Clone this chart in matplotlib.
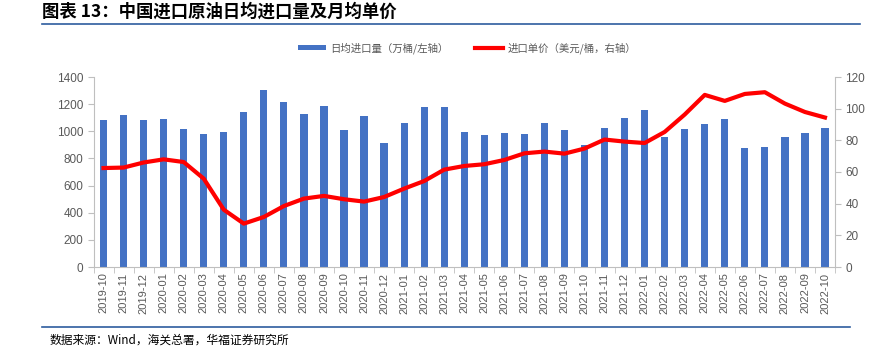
import matplotlib
matplotlib.use("Agg")
import matplotlib.pyplot as plt
from matplotlib.lines import Line2D
from matplotlib.patches import Patch
import numpy as np

plt.rcParams['font.family'] = ['Noto Sans CJK SC', 'DejaVu Sans']

months = ["2019-10", "2019-11", "2019-12", "2020-01", "2020-02", "2020-03", "2020-04", "2020-05",
          "2020-06", "2020-07", "2020-08", "2020-09", "2020-10", "2020-11", "2020-12", "2021-01",
          "2021-02", "2021-03", "2021-04", "2021-05", "2021-06", "2021-07", "2021-08", "2021-09",
          "2021-10", "2021-11", "2021-12", "2022-01", "2022-02", "2022-03", "2022-04", "2022-05",
          "2022-06", "2022-07", "2022-08", "2022-09", "2022-10"]
volume = [1081, 1123, 1080, 1093, 1015, 978, 995, 1140, 1305, 1216, 1130, 1189, 1012, 1113, 917,
          1061, 1182, 1177, 993, 976, 985, 980, 1059, 1007, 897, 1024, 1096, 1160, 956, 1015,
          1057, 1088, 880, 887, 958, 990, 1024]
price = [62.5, 62.8, 66.0, 68.0, 66.3, 55.8, 36.2, 27.4, 31.6, 38.5, 43.2, 44.9, 42.8, 41.3, 44.2,
         49.5, 54.3, 61.5, 63.8, 64.9, 67.6, 71.8, 72.9, 71.6, 74.8, 80.5, 79.2, 78.3, 85.3, 96.3,
         108.7, 104.9, 109.3, 110.4, 103.2, 97.9, 94.4]

months = months[:len(volume)]
x = np.arange(len(volume))

fig = plt.figure(figsize=(8.71, 3.54), dpi=100)
W, H = 871, 354
ax = fig.add_axes([93.5 / W, 1 - 267 / H, (835 - 93.5) / W, (267 - 77) / H])
ax2 = ax.twinx()

blue = '#4472C4'
red = '#FF0000'
grey = '#595959'
spc = '#BFBFBF'

ax.bar(x, volume, width=0.36, color=blue, zorder=2)
ax2.plot(x, price, color=red, lw=3, zorder=3, solid_joinstyle='round')

ax.set_xlim(-0.5, len(volume) - 0.5)
ax.set_ylim(0, 1400)
ax.set_yticks(np.arange(0, 1401, 200))
ax2.set_ylim(0, 120)
ax2.set_yticks(np.arange(0, 121, 20))

ax.set_xticks(x)
ax.set_xticklabels(months, rotation=90, fontsize=8, color=grey, family=['Liberation Sans', 'DejaVu Sans'])
ax.set_xticks(np.arange(-0.5, len(volume), 1), minor=True)
ax.tick_params(axis='x', which='major', length=0, pad=4)
ax.tick_params(axis='x', which='minor', length=4, color=spc, direction='out')
ax.tick_params(axis='y', labelsize=8.5, colors=grey, length=4, color=spc)
ax2.tick_params(axis='y', labelsize=8.5, colors=grey, length=4, color=spc)
for a in (ax, ax2):
    for lab in a.get_yticklabels():
        lab.set_family(['Liberation Sans', 'DejaVu Sans'])
        lab.set_color(grey)

for a in (ax, ax2):
    a.spines['top'].set_visible(False)
    for s in ('left', 'right', 'bottom'):
        a.spines[s].set_color(spc)
        a.spines[s].set_linewidth(0.8)
ax.spines['right'].set_visible(False)
ax2.spines['left'].set_visible(False)
ax2.spines['bottom'].set_visible(False)

# Legend
handles = [Patch(facecolor=blue, edgecolor='none'),
           Line2D([0], [0], color=red, lw=3)]
labels = ['日均进口量（万桶/左轴）', '进口单价（美元/桶，右轴）']
fig.legend(handles, labels, loc='center', bbox_to_anchor=(467 / W, 1 - 48 / H), ncol=2,
           frameon=False, fontsize=7.5, handlelength=2.7, handleheight=0.45, columnspacing=2.6,
           handletextpad=0.4, labelcolor=grey)

# Title and rules
fig.text(42 / W, 1 - 12 / H, '图表 13：中国进口原油日均进口量及月均单价', fontsize=12.5, fontweight='bold',
         va='center', ha='left', color='black')
fig.add_artist(Line2D([42 / W, 860 / W], [1 - 24 / H, 1 - 24 / H], color='#2E5C9E', lw=1.2))
fig.add_artist(Line2D([42 / W, 850 / W], [1 - 327 / H, 1 - 327 / H], color='#2E5C9E', lw=1.2))
fig.text(50 / W, 1 - 340 / H, '数据来源：Wind，海关总署，华福证券研究所', fontsize=8.5, va='center', ha='left',
         color='black')

fig.savefig('out.png', dpi=100)
